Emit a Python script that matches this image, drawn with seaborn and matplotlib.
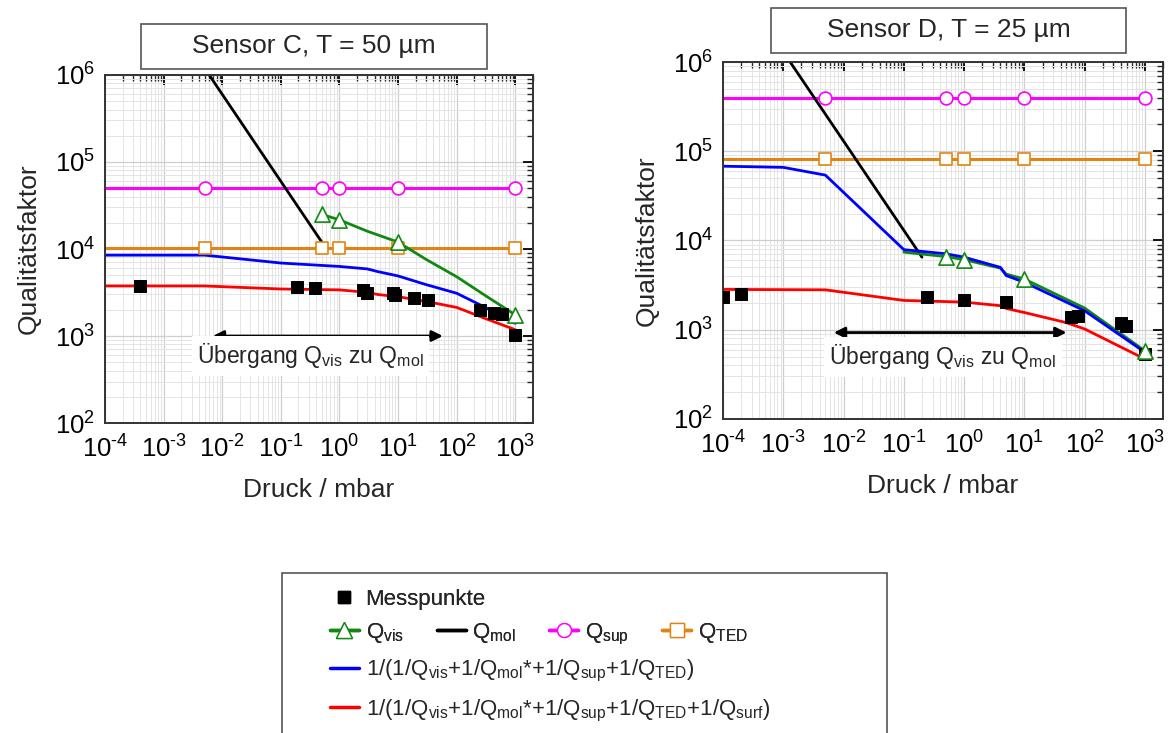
import numpy as np
import seaborn as sns
import matplotlib.pyplot as plt
from matplotlib.lines import Line2D
from matplotlib.patches import Rectangle
from matplotlib.ticker import LogLocator, FuncFormatter

# ---------------- data ----------------
# markers of the constant curves sit at these pressures
p_marks = [0.005, 0.5, 1, 10, 1000]
p_const = [1e-4, 0.005, 0.5, 1, 10, 1000]

# Sensor C, T = 50 um
q_sup_c = 5.0e4
q_ted_c = 1.02e4
p_mol_c = [0.004, 0.5]
q_mol_c = [1.5e6, 1.2e4]
p_vis_c = [0.5, 1, 3, 10, 30, 100, 300, 1000]
q_vis_c = [25000, 21600, 16000, 12000, 7600, 4800, 2950, 1750]
p_vis_mark_c = [0.5, 1, 10, 1000]
q_vis_mark_c = [25000, 21600, 12000, 1750]
p_sum_c = [1e-4, 0.005, 0.1, 1, 3, 4.5, 10, 30, 100, 300, 1000]
q_blue_c = [8500, 8500, 6900, 6300, 5900, 5500, 4900, 3900, 3100, 2150, 1400]
q_red_c = [3760, 3760, 3470, 3390, 3170, 3000, 2830, 2500, 2130, 1600, 1180]
p_meas_c = [4e-4, 0.19, 0.39, 2.5, 2.9, 8.2, 8.8, 19, 33, 250, 440, 600, 1000]
q_meas_c = [3760, 3700, 3600, 3400, 3100, 3150, 2930, 2740, 2590, 2000, 1820, 1780, 1030]
arrow_c = (0.0069, 58, 1000)
text_c = (0.32, 590)

# Sensor D, T = 25 um
q_sup_d = 4.0e5
q_ted_d = 8.2e4
p_mol_d = [0.001, 0.2]
q_mol_d = [1.3e6, 6500]
p_vis_d = [0.1, 0.5, 1, 4, 5, 10, 100, 1000]
q_vis_d = [7400, 6600, 6100, 4900, 4200, 3700, 1750, 580]
p_vis_mark_d = [0.5, 1, 10, 1000]
q_vis_mark_d = [6600, 6100, 3700, 580]
p_blue_d = [1e-4, 0.001, 0.005, 0.1, 0.5, 1, 4, 5, 10, 100, 1000]
q_blue_d = [68000, 66000, 54000, 7900, 7100, 6500, 5000, 4050, 3400, 1630, 560]
p_red_d = [1e-4, 0.005, 0.1, 1, 4, 5, 10, 50, 100, 1000]
q_red_d = [2830, 2800, 2130, 2040, 1860, 1730, 1560, 1200, 1020, 470]
p_meas_d = [1e-4, 2e-4, 0.24, 1, 5, 59, 78, 400, 490, 1000]
q_meas_d = [2350, 2500, 2350, 2180, 2050, 1380, 1410, 1180, 1100, 540]
arrow_d = (0.0069, 50, 930)
text_d = (0.44, 500)

titles = ["Sensor C, T = 50 µm", "Sensor D, T = 25 µm"]

# ---------------- style ----------------
C_VIS = "#118811"
C_MOL = "black"
C_SUP = "#ff00ff"
C_TED = "#e08514"
C_BLUE = "#0000ff"
C_RED = "#ff0000"

sns.set_style("white")
plt.rcParams["font.family"] = ["Liberation Sans", "DejaVu Sans"]
plt.rcParams["mathtext.fontset"] = "custom"
plt.rcParams["mathtext.rm"] = "Liberation Sans"
plt.rcParams["mathtext.it"] = "Liberation Sans"
plt.rcParams["mathtext.default"] = "regular"

fig = plt.figure(figsize=(11.69, 7.33), dpi=100)
ax_c = fig.add_axes([0.0898, 0.4229, 0.3661, 0.4748])
ax_d = fig.add_axes([0.6185, 0.4284, 0.3764, 0.4870])


def tick_fmt(v, pos):
    e = int(round(np.log10(v)))
    return "$10^{%s}$" % (str(e).replace("-", "\u2010") if e < 0 else e)


def draw(ax, d):
    ax.set_xscale("log")
    ax.set_yscale("log")
    ax.set_xlim(1e-4, 2000)
    ax.set_ylim(1e2, 1e6)
    ax.grid(which="major", color="#cfcfcf", lw=0.9)
    ax.grid(which="minor", color="#e4e4e4", lw=0.7)
    ax.set_axisbelow(True)

    # constant curves with open markers
    sns.lineplot(x=p_const, y=[d["sup"]] * len(p_const), ax=ax, color=C_SUP, lw=2.2,
                 estimator=None, sort=False)
    sns.lineplot(x=p_const, y=[d["ted"]] * len(p_const), ax=ax, color=C_TED, lw=2.2,
                 estimator=None, sort=False)
    sns.lineplot(x=d["p_mol"], y=d["q_mol"], ax=ax, color=C_MOL, lw=2,
                 estimator=None, sort=False)
    sns.lineplot(x=d["p_vis"], y=d["q_vis"], ax=ax, color=C_VIS, lw=2,
                 estimator=None, sort=False)
    sns.lineplot(x=d["p_blue"], y=d["q_blue"], ax=ax, color=C_BLUE, lw=2,
                 estimator=None, sort=False)
    sns.lineplot(x=d["p_red"], y=d["q_red"], ax=ax, color=C_RED, lw=2,
                 estimator=None, sort=False)

    sns.scatterplot(x=p_marks, y=[d["sup"]] * len(p_marks), ax=ax, marker="o", s=85,
                    facecolor="white", edgecolor=C_SUP, linewidth=1.2, zorder=4)
    sns.scatterplot(x=p_marks, y=[d["ted"]] * len(p_marks), ax=ax, marker="s", s=85,
                    facecolor="white", edgecolor=C_TED, linewidth=1.2, zorder=4)
    sns.scatterplot(x=d["p_meas"], y=d["q_meas"], ax=ax, marker="s", s=75,
                    color="black", edgecolor="black", zorder=5)
    sns.scatterplot(x=d["p_vm"], y=d["q_vm"], ax=ax, marker="^", s=120,
                    facecolor="white", edgecolor=C_VIS, linewidth=1.2, zorder=6)

    a0, a1, ay = d["arrow"]
    ax.annotate("", xy=(a1, ay), xytext=(a0, ay),
                arrowprops=dict(arrowstyle="<|-|>", color="black", lw=2,
                                mutation_scale=16, shrinkA=0, shrinkB=0))
    tx, ty = d["text"]
    ax.text(tx, ty, "Übergang $Q_{vis}$ zu $Q_{mol}$", fontsize=16.5, ha="center",
            va="center", bbox=dict(facecolor="white", edgecolor="none", pad=4), zorder=7)

    ax.xaxis.set_major_locator(LogLocator(base=10, numticks=20))
    ax.yaxis.set_major_locator(LogLocator(base=10, numticks=20))
    ax.xaxis.set_minor_locator(LogLocator(base=10, subs=np.arange(2, 10), numticks=100))
    ax.yaxis.set_minor_locator(LogLocator(base=10, subs=np.arange(2, 10), numticks=100))
    ax.xaxis.set_major_formatter(FuncFormatter(tick_fmt))
    ax.yaxis.set_major_formatter(FuncFormatter(tick_fmt))
    ax.tick_params(which="major", direction="in", length=7, width=1.3,
                   top=True, right=True, labelsize=18.5, colors="black")
    ax.tick_params(which="minor", direction="in", length=4, width=1.0,
                   top=True, right=True)
    ax.tick_params(axis="x", which="major", pad=9)
    ax.tick_params(axis="y", which="major", pad=7)
    for sp in ax.spines.values():
        sp.set_color("#333333")
        sp.set_linewidth(1.4)
    ax.set_xlabel("Druck / mbar", fontsize=19, labelpad=11)
    ax.set_ylabel("Qualitätsfaktor", fontsize=19, labelpad=10)


draw(ax_c, dict(sup=q_sup_c, ted=q_ted_c, p_mol=p_mol_c, q_mol=q_mol_c,
                p_vis=p_vis_c, q_vis=q_vis_c, p_vm=p_vis_mark_c, q_vm=q_vis_mark_c,
                p_blue=p_sum_c, q_blue=q_blue_c, p_red=p_sum_c, q_red=q_red_c,
                p_meas=p_meas_c, q_meas=q_meas_c, arrow=arrow_c, text=text_c))
draw(ax_d, dict(sup=q_sup_d, ted=q_ted_d, p_mol=p_mol_d, q_mol=q_mol_d,
                p_vis=p_vis_d, q_vis=q_vis_d, p_vm=p_vis_mark_d, q_vm=q_vis_mark_d,
                p_blue=p_blue_d, q_blue=q_blue_d, p_red=p_red_d, q_red=q_red_d,
                p_meas=p_meas_d, q_meas=q_meas_d, arrow=arrow_d, text=text_d))

# title boxes
W, H = 1169, 733
for (x0, y0, x1, y1), t in zip([(141, 24, 487, 69), (771, 8, 1126, 53)], titles):
    fig.patches.append(Rectangle((x0 / W, 1 - y1 / H), (x1 - x0) / W, (y1 - y0) / H,
                                 transform=fig.transFigure, facecolor="white",
                                 edgecolor="#555555", lw=1.2))
    fig.text((x0 + x1) / 2 / W, 1 - (y0 + y1) / 2 / H, t, fontsize=19,
             ha="center", va="center")

# legend frame
fig.patches.append(Rectangle((282 / W, -0.01), (887 - 282) / W, 1 - 573 / H + 0.01,
                             transform=fig.transFigure, facecolor="white",
                             edgecolor="#555555", lw=1.2))

h_meas = Line2D([], [], ls="none", marker="s", ms=8, color="black")
h_vis = Line2D([], [], color=C_VIS, lw=2.5, marker="^", ms=11, mfc="white", mec=C_VIS)
h_mol = Line2D([], [], color=C_MOL, lw=2.5)
h_sup = Line2D([], [], color=C_SUP, lw=2.5, marker="o", ms=10, mfc="white", mec=C_SUP)
h_ted = Line2D([], [], color=C_TED, lw=2.5, marker="s", ms=10, mfc="white", mec=C_TED)
h_blue = Line2D([], [], color=C_BLUE, lw=2.5)
h_red = Line2D([], [], color=C_RED, lw=2.5)

common = dict(frameon=False, fontsize=16, handlelength=1.3, handletextpad=0.3,
              borderpad=0, borderaxespad=0, loc="upper left")
leg1 = fig.legend([h_meas], ["Messpunkte"], bbox_to_anchor=(330 / W, 1 - 589 / H), **common)
leg2 = fig.legend([h_vis, h_mol, h_sup, h_ted],
                  ["$Q_{vis}$", "$Q_{mol}$", "$Q_{sup}$", "$Q_{TED}$"],
                  ncol=4, columnspacing=1.5, bbox_to_anchor=(330 / W, 1 - 621 / H), **common)
leg3 = fig.legend([h_blue, h_red],
                  ["1/(1/$Q_{vis}$+1/$Q_{mol}$*+1/$Q_{sup}$+1/$Q_{TED}$)",
                   "1/(1/$Q_{vis}$+1/$Q_{mol}$*+1/$Q_{sup}$+1/$Q_{TED}$+1/$Q_{surf}$)"],
                  labelspacing=0.6, bbox_to_anchor=(330 / W, 1 - 658 / H), **common)
fig.add_artist(leg1)
fig.add_artist(leg2)

fig.savefig("out.png", dpi=100)
